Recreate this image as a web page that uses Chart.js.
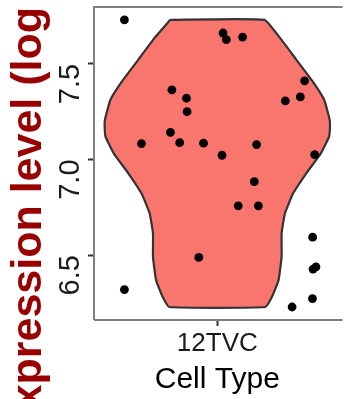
<!DOCTYPE html>
<html>
<head>
<meta charset="utf-8">
<script src="https://cdn.jsdelivr.net/npm/chart.js@4"></script>
<style>
  html, body { margin: 0; padding: 0; background: #ffffff; }
  #wrap { width: 345px; height: 399px; }
</style>
</head>
<body>
<div id="wrap"><canvas id="chart" width="345" height="399"></canvas></div>
<script>
// Category on the x axis (one violin)
const cellTypes = ['12TVC'];

// Violin outline: expression levels and the density half-width at each level
const violinLevels = [7.730, 7.634, 7.521, 7.408, 7.312, 7.207, 7.163, 7.120, 7.032,
                      6.928, 6.823, 6.718, 6.613, 6.491, 6.369, 6.282, 6.229];
const violinHalfWidths = [0.229, 0.306, 0.385, 0.464, 0.520, 0.547, 0.548, 0.544, 0.504,
                          0.433, 0.369, 0.329, 0.313, 0.313, 0.298, 0.266, 0.234];

// Individual cells: jittered x position and expression level
const cellJitterX = [0.548, 1.028, 1.044, 1.123, 1.425, 0.779, 0.850, 1.404, 1.331,
                     0.853, 0.772, 0.631, 0.817, 0.933, 1.191, 1.023, 1.474, 1.180,
                     1.102, 1.200, 1.464, 0.910, 1.480, 1.466, 0.548, 1.463, 1.364];
const cellLevels = [7.730, 7.661, 7.626, 7.640, 7.411, 7.364, 7.320, 7.327, 7.306,
                    7.250, 7.142, 7.083, 7.088, 7.085, 7.078, 7.022, 7.025, 6.884,
                    6.758, 6.758, 6.594, 6.488, 6.439, 6.427, 6.320, 6.273, 6.229];

// Y axis tick values
const yTickValues = [6.5, 7.0, 7.5];

// Build the closed violin polygon: left side top->bottom, right side bottom->top
const violinShape = [];
violinLevels.forEach((lv, i) => violinShape.push({ x: 1 - violinHalfWidths[i], y: lv }));
for (let i = violinLevels.length - 1; i >= 0; i--) {
  violinShape.push({ x: 1 + violinHalfWidths[i], y: violinLevels[i] });
}
violinShape.push({ ...violinShape[0] });

const cellPoints = cellJitterX.map((x, i) => ({ x, y: cellLevels[i] }));

// Panel frame (left, top and bottom edges)
const panelFrame = {
  id: 'panelFrame',
  beforeDatasetsDraw(chart) {
    const { ctx, chartArea: a } = chart;
    ctx.save();
    ctx.strokeStyle = '#7f7f7f';
    ctx.lineWidth = 2;
    ctx.beginPath();
    ctx.moveTo(a.left, a.bottom);
    ctx.lineTo(a.left, a.top);
    ctx.lineTo(a.right + 2, a.top);
    ctx.moveTo(a.left, a.bottom);
    ctx.lineTo(a.right + 2, a.bottom);
    ctx.stroke();
    ctx.restore();
  }
};

const FONT = "'Liberation Sans', Arial, Helvetica, sans-serif";

new Chart(document.getElementById('chart'), {
  type: 'scatter',
  data: {
    datasets: [
      {
        label: 'cells',
        data: cellPoints,
        pointRadius: 4.4,
        pointBackgroundColor: '#000000',
        pointBorderWidth: 0,
        showLine: false
      },
      {
        label: 'violin',
        data: violinShape,
        showLine: true,
        fill: 'shape',
        backgroundColor: '#F8766D',
        borderColor: '#333333',
        borderWidth: 2.2,
        tension: 0.12,
        pointRadius: 0
      }
    ]
  },
  options: {
    responsive: false,
    animation: false,
    events: [],
    layout: { padding: { top: 7, right: 0, bottom: 0, left: 0 } },
    plugins: {
      legend: { display: false },
      tooltip: { enabled: false }
    },
    scales: {
      x: {
        type: 'linear',
        min: 0.4,
        max: 1.6,
        afterBuildTicks: s => { s.ticks = cellTypes.map((c, i) => ({ value: i + 1 })); },
        afterFit: s => { s.height = 79; s.paddingLeft = 0; s.paddingRight = 0; },
        grid: { display: true, drawOnChartArea: false, drawTicks: true, tickLength: 6, tickWidth: 2, tickColor: '#333333' },
        border: { display: false },
        ticks: {
          padding: 2,
          color: '#1a1a1a',
          font: { family: FONT, size: 26 },
          callback: v => cellTypes[Math.round(v) - 1] || ''
        },
        title: {
          display: true,
          text: 'Cell Type',
          color: '#000000',
          font: { family: FONT, size: 30 },
          padding: { top: 0, bottom: 1 }
        }
      },
      y: {
        type: 'linear',
        min: 6.161,
        max: 7.797,
        afterBuildTicks: s => { s.ticks = yTickValues.map(v => ({ value: v })); },
        afterFit: s => { s.width = 94; s.paddingTop = 0; s.paddingBottom = 0; },
        grid: { display: true, drawOnChartArea: false, drawTicks: true, tickLength: 6, tickWidth: 2, tickColor: '#333333' },
        border: { display: false },
        ticks: {
          minRotation: 90,
          maxRotation: 90,
          padding: 17,
          color: '#1a1a1a',
          font: { family: FONT, size: 29 },
          callback: v => v.toFixed(1)
        },
        title: {
          display: true,
          text: 'Expression level (log TPM)',
          color: '#990000',
          font: { family: FONT, size: 43, weight: 'bold' },
          padding: { top: 3, bottom: 0 }
        }
      }
    }
  },
  plugins: [panelFrame]
});
</script>
</body>
</html>
